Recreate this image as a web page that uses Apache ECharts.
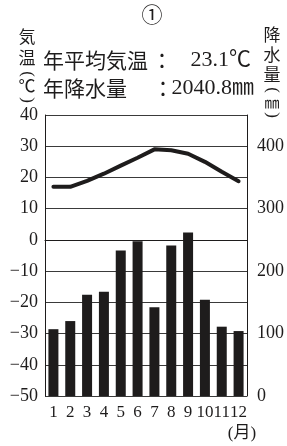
<!DOCTYPE html>
<html>
<head>
<meta charset="utf-8">
<script src="https://cdn.jsdelivr.net/npm/echarts@6/dist/echarts.min.js"></script>
<style>
  html, body { margin: 0; padding: 0; background: #fff; }
  #chart { width: 287px; height: 446px; }
</style>
</head>
<body>
<div id="chart"></div>
<script>
// climate chart data
const months = ['1', '2', '3', '4', '5', '6', '7', '8', '9', '10', '11', '12'];
const temperature = [17.0, 17.0, 18.9, 21.2, 23.8, 26.3, 29.0, 28.7, 27.6, 25.0, 21.8, 18.8];
const precipitation = [107, 120, 162, 167, 233, 248, 142, 241, 262, 154, 111, 104];
const annualTemp = '23.1℃';
const annualRain = '2040.8㎜';

const INK = '#1e1c1c';
const SERIF = 'Liberation Serif, "Noto Sans CJK JP", serif';
const CJK = '"Noto Sans CJK JP", sans-serif';

const chart = echarts.init(document.getElementById('chart'));

const txt = (text, x, y, font, align, rotation) => ({
  type: 'text',
  x: x,
  y: y,
  rotation: rotation || 0,
  style: {
    text: text,
    font: font,
    fill: INK,
    align: align || 'center',
    verticalAlign: 'middle'
  }
});

// vertical-writing brackets: a "(" turned on its side
const openArc = (x, y) => txt('(', x, y, '17px ' + SERIF, 'center', -Math.PI / 2);
const closeArc = (x, y) => txt(')', x, y, '17px ' + SERIF, 'center', -Math.PI / 2);

const minusFmt = v => (v < 0 ? '\u2212' + Math.abs(v) : String(v));

chart.setOption({
  animation: false,
  backgroundColor: '#fff',
  grid: { left: 45, top: 115, width: 205, height: 281 },
  xAxis: {
    type: 'category',
    data: months,
    boundaryGap: true,
    axisTick: { show: false },
    axisLine: { show: true, lineStyle: { color: INK, width: 1 } },
    axisLabel: { color: INK, fontFamily: SERIF, fontSize: 17, margin: 8, interval: 0 }
  },
  yAxis: [
    {
      type: 'value',
      min: -50,
      max: 40,
      interval: 10,
      axisTick: { show: false },
      axisLine: { show: true, lineStyle: { color: INK, width: 1 } },
      splitLine: { show: true, lineStyle: { color: '#3a3a3a', width: 1 } },
      axisLabel: { color: INK, fontFamily: SERIF, fontSize: 18, margin: 7, formatter: minusFmt }
    },
    {
      type: 'value',
      min: 0,
      max: 450,
      interval: 100,
      position: 'right',
      axisTick: { show: false },
      axisLine: { show: true, lineStyle: { color: INK, width: 1 } },
      splitLine: { show: false },
      axisLabel: {
        color: INK,
        fontFamily: SERIF,
        fontSize: 18,
        margin: 10,
        formatter: v => (v > 400 ? '' : String(v))
      }
    }
  ],
  series: [
    {
      type: 'bar',
      yAxisIndex: 1,
      data: precipitation,
      barWidth: 10,
      itemStyle: { color: INK },
      z: 2
    },
    {
      type: 'line',
      yAxisIndex: 0,
      data: temperature,
      showSymbol: false,
      symbol: 'none',
      lineStyle: { color: INK, width: 4, cap: 'round', join: 'round' },
      z: 3
    }
  ],
  graphic: [
    txt('①', 152, 14, '21px ' + CJK),
    // left axis title
    txt('気', 27, 37, '17px ' + CJK),
    txt('温', 27, 58, '17px ' + CJK),
    openArc(27, 74),
    txt('℃', 27, 86, '17px ' + CJK),
    closeArc(27, 100),
    // right axis title
    txt('降', 272, 35, '17px ' + CJK),
    txt('水', 272, 55, '17px ' + CJK),
    txt('量', 272, 75, '17px ' + CJK),
    openArc(272, 90),
    txt('㎜', 272, 102, '15px ' + CJK),
    closeArc(272, 115),
    // annual summary
    txt('年平均気温', 43, 60, '21px ' + CJK, 'left'),
    txt('：', 162, 60, '21px ' + CJK),
    txt(annualTemp, 251, 60, '22px ' + SERIF, 'right'),
    txt('年降水量', 43, 88, '21px ' + CJK, 'left'),
    txt('：', 163, 88, '21px ' + CJK),
    txt(annualRain, 254, 88, '22px ' + SERIF, 'right'),
    // month unit
    txt('(月)', 242, 434, '17px ' + SERIF)
  ]
});
</script>
</body>
</html>
